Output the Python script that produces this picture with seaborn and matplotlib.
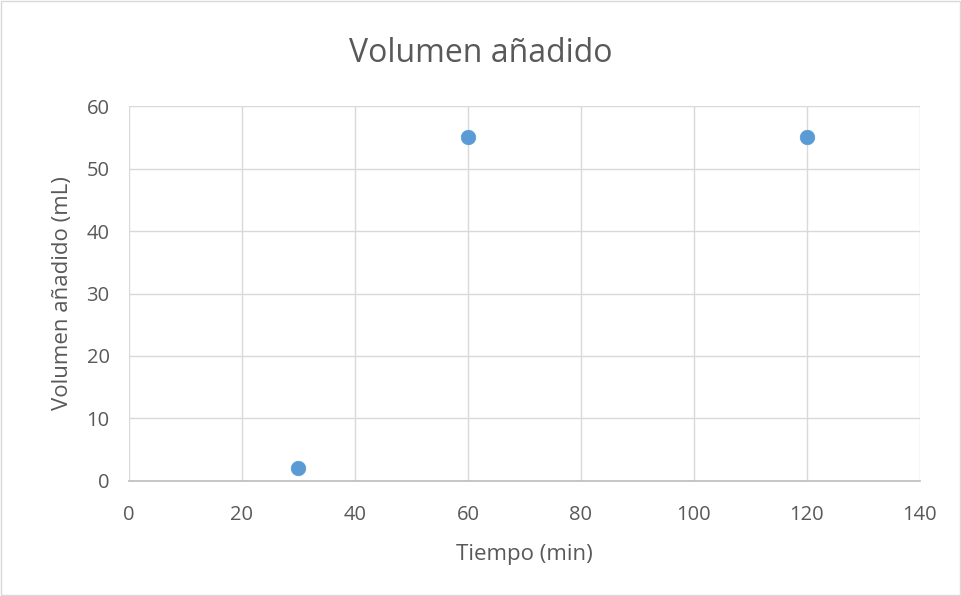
import matplotlib
matplotlib.use("Agg")
import matplotlib.pyplot as plt
import seaborn as sns
import pandas as pd

# Data
tiempo = [30, 60, 120]
volumen = [2, 55, 55]

df = pd.DataFrame({"Tiempo (min)": tiempo, "Volumen añadido (mL)": volumen})

sns.set_theme(style="whitegrid")
plt.rcParams['font.family'] = ['Open Sans', 'DejaVu Sans']

fig = plt.figure(figsize=(9.61, 5.96), dpi=100)
ax = fig.add_axes([0.1342, 0.1930, 0.8231, 0.6291])

sns.scatterplot(data=df, x="Tiempo (min)", y="Volumen añadido (mL)", ax=ax,
                color="#5B9BD5", s=110, edgecolor="#5B9BD5", linewidth=0.5, zorder=3)

ax.set_xlim(0, 140)
ax.set_ylim(0, 60)
ax.set_xticks(range(0, 141, 20))
ax.set_yticks(range(0, 61, 10))
ax.grid(True, color="#D9D9D9", linewidth=1)
for side in ["top", "right", "left"]:
    ax.spines[side].set_visible(False)
ax.spines["bottom"].set_visible(True)
ax.spines["bottom"].set_color("#BFBFBF")
ax.tick_params(axis="x", labelsize=14.5, colors="#595959", length=0, pad=17)
ax.tick_params(axis="y", labelsize=14.5, colors="#595959", length=0, pad=14)

ax.set_xlabel("Tiempo (min)", fontsize=16, color="#595959", labelpad=14)
ax.set_ylabel("Volumen añadido (mL)", fontsize=16, color="#595959", labelpad=10)
fig.text(0.5, 0.91, "Volumen añadido", ha="center", va="center",
         fontsize=23, color="#595959")

# light border around the chart area
fig.patches.append(plt.Rectangle((0.001, 0.001), 0.998, 0.998, transform=fig.transFigure,
                                 fill=False, edgecolor="#D9D9D9", linewidth=1))

fig.savefig("out.png", dpi=100)
